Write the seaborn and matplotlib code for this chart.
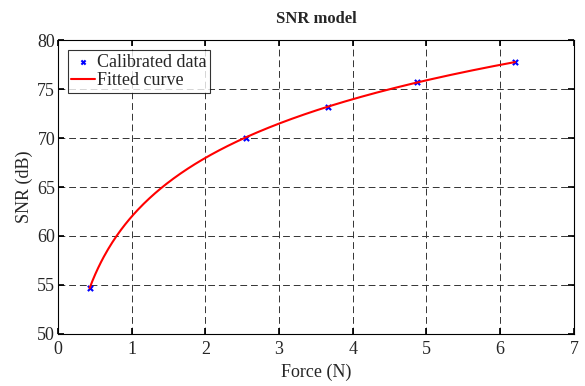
import numpy as np
import pandas as pd
import matplotlib
matplotlib.use("Agg")
import matplotlib.pyplot as plt
import seaborn as sns

force = [0.43, 2.55, 3.67, 4.87, 6.20]
snr = [54.7, 70.0, 73.2, 75.7, 77.8]
x_ticks = [0, 1, 2, 3, 4, 5, 6, 7]
y_ticks = [50, 55, 60, 65, 70, 75, 80]

sns.set_theme(style="white")
plt.rcParams['font.family'] = ['Liberation Serif', 'DejaVu Serif']
plt.rcParams['mathtext.fontset'] = 'stix'

# logarithmic least-squares fit of the calibrated data
b, a = np.polyfit(np.log(force), snr, 1)
fx = np.linspace(min(force), max(force), 300)
fit_df = pd.DataFrame({"Force": fx, "SNR": a + b * np.log(fx)})
data_df = pd.DataFrame({"Force": force, "SNR": snr})

fig = plt.figure(figsize=(5.85, 3.86), dpi=100)
ax = fig.add_axes([0.099, 0.135, 0.882, 0.761])

sns.scatterplot(data=data_df, x="Force", y="SNR", marker="x", color="blue",
                s=14, linewidth=1.5, ax=ax, label="Calibrated data", zorder=3)
sns.lineplot(data=fit_df, x="Force", y="SNR", color="red", linewidth=1.5,
             ax=ax, label="Fitted curve", zorder=4)

ax.set_xlim(0, 7)
ax.set_ylim(50, 80)
ax.set_xticks(x_ticks)
ax.set_yticks(y_ticks)
ax.grid(True, color="#333333", linestyle=(0, (7, 4)), linewidth=0.7)
ax.tick_params(direction="in", length=4, color="black", labelsize=13,
               top=True, right=True, bottom=True, left=True)
ax.tick_params(axis="x", pad=5)
ax.tick_params(axis="y", pad=2)
for sp in ax.spines.values():
    sp.set_color("black")
    sp.set_linewidth(0.8)
ax.set_xlabel("Force (N)", fontsize=13, labelpad=4)
ax.set_ylabel("SNR (dB)", fontsize=13, labelpad=3)
ax.set_title("SNR model", fontsize=12, fontweight="bold", pad=12)

leg = ax.legend(loc="upper left", fontsize=13, frameon=True, fancybox=False,
                edgecolor="black", borderpad=0.2, handlelength=1.3,
                handletextpad=0.1, labelspacing=0.1, borderaxespad=0.55,
                markerscale=0.8)
leg.get_frame().set_linewidth(0.8)

fig.savefig("out.png", dpi=100, facecolor="white")
